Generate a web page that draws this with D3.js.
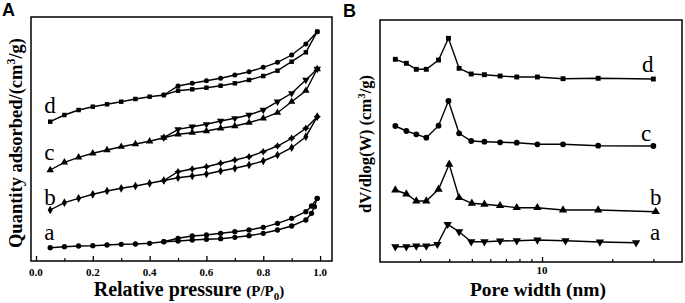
<!DOCTYPE html>
<html><head><meta charset="utf-8">
<script src="https://cdn.jsdelivr.net/npm/d3@7"></script>
<style>
html,body{margin:0;padding:0;background:#fff;}
svg{display:block;}
text{fill:#000;}
</style></head>
<body>
<svg id="chart" width="685" height="303"></svg>
<script>
// ---------- Panel A data: N2 isotherms (arbitrary units) ----------
const pAds  = [0.05,0.10,0.15,0.20,0.25,0.30,0.35,0.40,0.45,0.50,0.55,0.60,0.65,0.70,0.75,0.80,0.85,0.90,0.95,0.99];
const pDes  = [0.45,0.50,0.55,0.60,0.65,0.70,0.75,0.80,0.85,0.90,0.95,0.99];
const pAdsA = [0.05,0.10,0.15,0.20,0.25,0.30,0.35,0.40,0.45,0.50,0.55,0.60,0.65,0.70,0.75,0.80,0.85,0.90,0.95,0.97,0.98,0.99];
const pDesA = [0.45,0.50,0.55,0.60,0.65,0.70,0.75,0.80,0.85,0.90,0.95,0.97,0.99];

const dAds = [139.3,146,151,154.3,156.7,159.3,162,164.3,166,170.3,171.7,173.3,175.3,177.7,181,185,190.3,199.3,208.7,229.3];
const dDes = [166,175,177.7,180.3,182.7,186,189.3,193.7,198.7,206,217,229.3];
const cAds = [91,98.7,103.7,107.7,111,114.3,117,119.7,123.3,126.7,128.3,130,132.7,135,138.3,142.7,148.3,159.3,170.3,192];
const cDes = [123.3,131.7,134.3,136.7,140,142.7,146,151,159.3,167.7,181,192];
const bAds = [51,58.3,62.7,66.7,70,72.7,75,77.7,80.5,83.3,85,87,90,92.7,96,100,106,113.3,124.3,144.3];
const bDes = [80.5,89.3,92,94.3,97.7,101,104.3,109.3,115,122.7,132.7,144.3];
const aAds = [13.3,14.3,15,15.3,16,16.7,17,17.7,19.3,20,21,21.7,22.3,23.7,25.3,27.7,31,35,41,47.7,54.3,62.7];
const aDes = [19.3,22.7,25,26,27.7,29.3,31,33.7,37.7,42.7,49.3,55,62.7];

const pTicks = [0.0,0.2,0.4,0.6,0.8,1.0];
const pMinor = [0.1,0.3,0.5,0.7,0.9];

// ---------- Panel B data: pore size distributions ----------
const wDC = [2.35,2.62,2.89,3.19,3.60,3.97,4.41,4.97,5.66,6.61,7.79,9.55,12.3,17.4,30.0];
const wB  = [2.35,2.62,2.89,3.19,3.60,4.00,4.41,5.00,5.66,6.61,7.79,9.55,12.3,17.4,30.7];
const wA  = [2.35,2.62,2.89,3.19,3.56,3.94,4.41,4.97,5.66,6.61,7.79,9.55,12.6,17.7,25.3];
const dPSD = [202.7,198.7,192.7,192.7,202,223.7,193.7,188,187.3,186,185,185,183.3,183.7,183];
const cPSD = [136,131,127.7,124.3,136.3,161,128.7,121,120.3,119.7,119.3,117.7,117.7,116.3,116];
const bPSD = [72,68,61,61,72.7,97.7,64.3,58.7,57.7,56.3,54.3,54.3,52,52,50.3];
const aPSD = [15.3,15.3,16,16,17.7,37.7,30.3,20.3,20.3,21,21.3,22,21.3,20,19.3];

const wTicks = [10];
const wMinor = [3,4,5,6,7,8,9,20,30];

const seriesNames = ["a","b","c","d"];

// ---------- drawing ----------
const svg = d3.select("#chart");
const serif = "'Liberation Serif','Times New Roman',serif";
const sans = "'Liberation Sans',Arial,sans-serif";

// custom 4-point star symbol
const star4 = {draw(ctx, size){
  const r = Math.sqrt(size)*0.8, s = r*0.38;
  ctx.moveTo(0,-r); ctx.lineTo(s,-s); ctx.lineTo(r,0); ctx.lineTo(s,s);
  ctx.lineTo(0,r); ctx.lineTo(-s,s); ctx.lineTo(-r,0); ctx.lineTo(-s,-s); ctx.closePath();
}};

function panel(cfg){
  const g = svg.append("g");
  const {x, y} = cfg;
  const [x0,x1] = x.range(), [y0,y1] = y.range();
  g.append("rect").attr("x",x0).attr("y",y1).attr("width",x1-x0).attr("height",y0-y1)
    .attr("fill","none").attr("stroke","#000").attr("stroke-width",1.5);
  const ax = d3.axisTop(x).tickValues(cfg.ticks).tickSize(5).tickFormat("");
  g.append("g").attr("transform",`translate(0,${y0})`).call(ax)
    .call(s=>s.select(".domain").remove())
    .call(s=>s.selectAll("line").attr("stroke-width",1.3));
  const axm = d3.axisTop(x).tickValues(cfg.minor).tickSize(3).tickFormat("");
  g.append("g").attr("transform",`translate(0,${y0})`).call(axm)
    .call(s=>s.select(".domain").remove())
    .call(s=>s.selectAll("line").attr("stroke-width",1.2));
  g.selectAll("text.tl").data(cfg.ticks).join("text").attr("class","tl")
    .attr("x",d=>x(d)).attr("y",y0+cfg.labDy).attr("text-anchor","middle")
    .attr("font-family",serif).attr("font-weight","bold").attr("font-size",11)
    .text(cfg.tickFmt);
  return g;
}

function drawLine(g, x, y, xs, ys, sym, size, rot){
  const pts = xs.map((v,i)=>[v, ys[i]]);
  g.append("path").datum(pts)
    .attr("d", d3.line().x(d=>x(d[0])).y(d=>y(d[1])))
    .attr("fill","none").attr("stroke","#000").attr("stroke-width",1.4);
  g.selectAll(null).data(pts).join("path")
    .attr("transform",d=>`translate(${x(d[0])},${y(d[1])})${rot?" rotate(180)":""}`)
    .attr("d", d3.symbol().type(sym).size(size))
    .attr("fill","#000");
}

// ---- Panel A ----
const xA = d3.scaleLinear().domain([-0.0176,1.042]).range([31,332]);
const yA = d3.scaleLinear().domain([0,244]).range([261,17]);
const gA = panel({x:xA, y:yA, ticks:pTicks, minor:pMinor, tickFmt:d3.format(".1f"), labDy:15});

const isoSets = [
  {ads:aAds, des:aDes, px:pAdsA, pd:pDesA, sa:d3.symbolCircle, sd:d3.symbolCircle, sz:22, ra:false, rd:false},
  {ads:bAds, des:bDes, px:pAds, pd:pDes, sa:d3.symbolDiamond, sd:star4, sz:22, ra:false, rd:false},
  {ads:cAds, des:cDes, px:pAds, pd:pDes, sa:d3.symbolTriangle, sd:d3.symbolTriangle, sz:24, ra:false, rd:true},
  {ads:dAds, des:dDes, px:pAds, pd:pDes, sa:d3.symbolSquare, sd:d3.symbolCircle, sz:20, ra:false, rd:false}
];
isoSets.forEach(s=>{
  drawLine(gA, xA, yA, s.px, s.ads, s.sa, s.sz, s.ra);
  drawLine(gA, xA, yA, s.pd, s.des, s.sd, s.sz, s.rd);
});
const labOffA = [-8,-5,-10,-9];
isoSets.forEach((s,i)=>{
  gA.append("text").attr("x", xA(0.05)-6).attr("y", yA(s.ads[0])+labOffA[i])
    .attr("font-family",serif).attr("font-size",23).text(seriesNames[i]);
});

const tA = gA.append("text").attr("x",189).attr("y",296).attr("text-anchor","middle")
  .attr("font-family",serif).attr("font-weight","bold").attr("font-size",20);
tA.append("tspan").text("Relative pressure ");
tA.append("tspan").attr("font-size",15).text("(P/P");
tA.append("tspan").attr("font-size",11).attr("dy",4).text("0");
tA.append("tspan").attr("font-size",15).attr("dy",-4).text(")");

const yTA = gA.append("text").attr("transform","translate(22,143) rotate(-90)").attr("text-anchor","middle")
  .attr("font-family",serif).attr("font-weight","bold").attr("font-size",18.5);
yTA.append("tspan").text("Quantity adsorbed/(cm");
yTA.append("tspan").attr("font-size",12).attr("dy",-7).text("3");
yTA.append("tspan").attr("dy",7).text("/g)");

svg.append("text").attr("x",2).attr("y",16).attr("font-family",sans).attr("font-weight","bold")
  .attr("font-size",18).text("A");

// ---- Panel B ----
const xB = d3.scaleLog().domain([2.02,39.8]).range([380,682]);
const yB = d3.scaleLinear().domain([0,242]).range([262,20]);
const gB = panel({x:xB, y:yB, ticks:wTicks, minor:wMinor, tickFmt:d=>String(d), labDy:12});

const psdSets = [
  {w:wA, v:aPSD, sym:d3.symbolTriangle, sz:30, rot:true},
  {w:wB, v:bPSD, sym:d3.symbolTriangle, sz:30, rot:false},
  {w:wDC, v:cPSD, sym:d3.symbolCircle, sz:26, rot:false},
  {w:wDC, v:dPSD, sym:d3.symbolSquare, sz:24, rot:false}
];
psdSets.forEach(s=> drawLine(gB, xB, yB, s.w, s.v, s.sym, s.sz, s.rot));
const labPosB = [[650,240],[650,205],[641,141],[642,72]];
psdSets.forEach((s,i)=>{
  gB.append("text").attr("x", labPosB[i][0]).attr("y", labPosB[i][1])
    .attr("font-family",serif).attr("font-size",23).text(seriesNames[i]);
});

gB.append("text").attr("x",538).attr("y",296).attr("text-anchor","middle")
  .attr("font-family",serif).attr("font-weight","bold").attr("font-size",19.5).text("Pore width (nm)");

const yTB = gB.append("text").attr("transform","translate(371,144) rotate(-90)").attr("text-anchor","middle")
  .attr("font-family",serif).attr("font-weight","bold").attr("font-size",16.5);
yTB.append("tspan").text("dV/dlog(W) (cm");
yTB.append("tspan").attr("font-size",11).attr("dy",-6).text("3");
yTB.append("tspan").attr("dy",6).text("/g)");

svg.append("text").attr("x",343).attr("y",17).attr("font-family",sans).attr("font-weight","bold")
  .attr("font-size",18).text("B");
</script>
</body></html>
